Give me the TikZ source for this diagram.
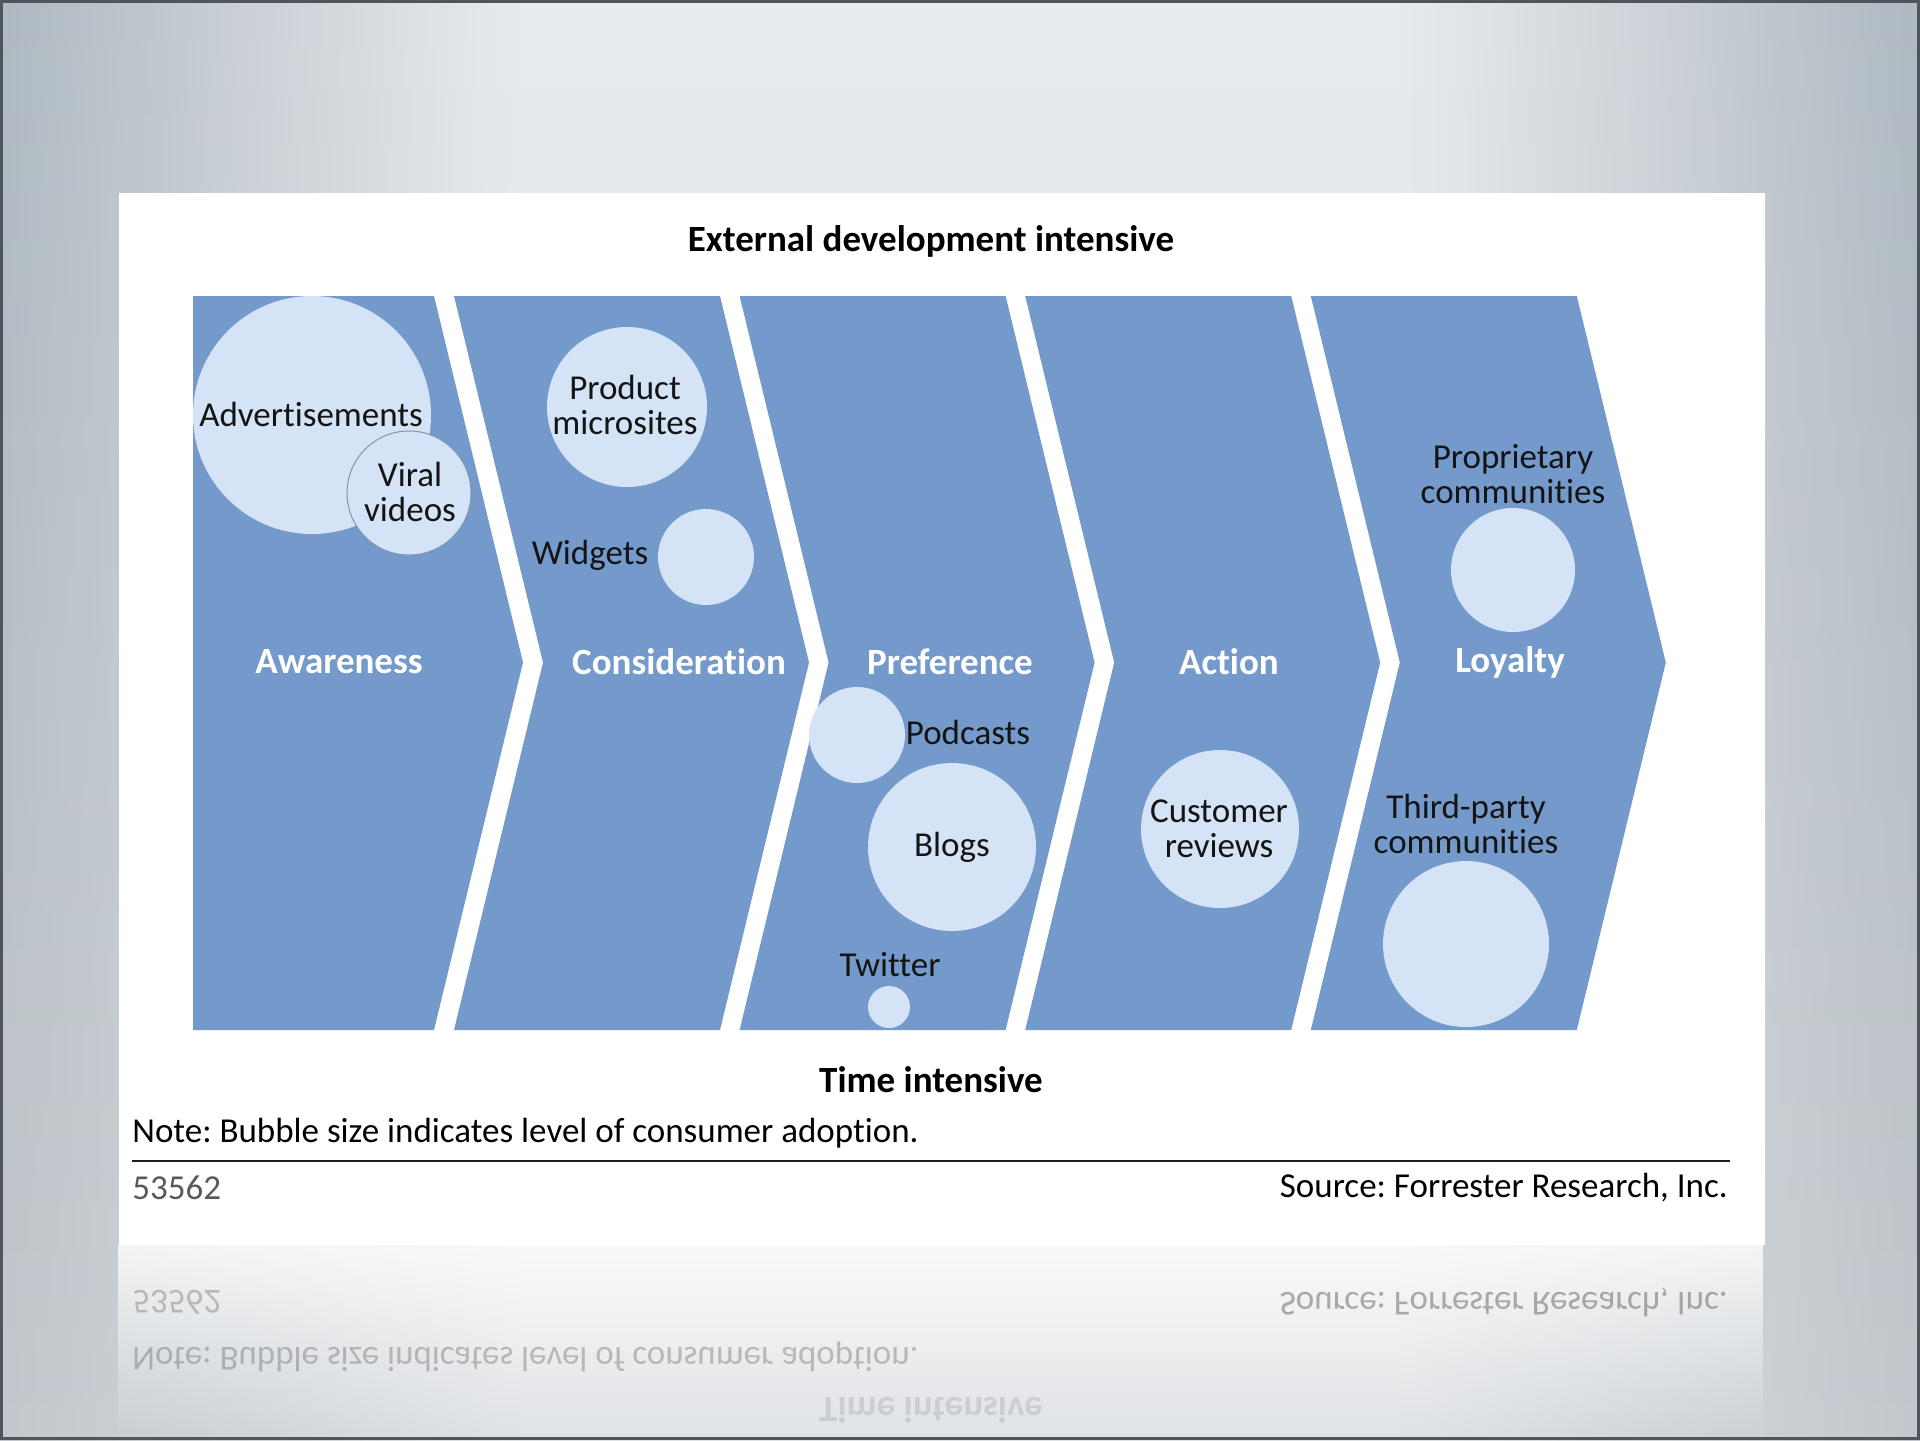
\documentclass[tikz,border=0pt]{standalone}
\usepackage{fontspec}
\setmainfont{Carlito}[Ligatures=NoCommon]
\usepackage{xcolor}
\usepackage{tikz}
\usetikzlibrary{fadings}
\frenchspacing

\definecolor{chevblue}{HTML}{7499CB}
\definecolor{bubblue}{HTML}{D4E3F5}
\definecolor{rimblue}{HTML}{8196B2}
\definecolor{bgtop}{HTML}{E8EBEE}
\definecolor{bgmid}{HTML}{C9D0D5}
\definecolor{bgbot}{HTML}{E0E3E6}
\definecolor{sidetop}{HTML}{AFB9C1}
\definecolor{sidemid}{HTML}{8E99A3}
\definecolor{sidebot}{HTML}{C2C8CD}
\definecolor{framegray}{HTML}{4E555B}

\tikzfading[name=fadeleft, left color=transparent!0, right color=transparent!100]
\tikzfading[name=faderight, left color=transparent!100, right color=transparent!0]
\tikzfading[name=fadedown, top color=transparent!20, bottom color=transparent!100]

\begin{document}
\begin{tikzpicture}[
    x=0.5pt, y=-0.5pt,
    chevron/.style={fill=chevblue},
    bubble/.style={circle, fill=bubblue, inner sep=0pt},
    bublabel/.style={font=\fontsize{17.5}{17.5}\selectfont, text=black!92, align=center, inner sep=0pt},
    stage/.style={font=\fontsize{18.5}{18.5}\selectfont\bfseries, text=white, inner sep=0pt},
    heading/.style={font=\fontsize{18.5}{18.5}\selectfont\bfseries, text=black, inner sep=0pt},
    foot/.style={font=\fontsize{17.5}{17.5}\selectfont, text=black, inner sep=0pt}
]

\useasboundingbox (0,0) rectangle (1920,1440);

% Background
\shade[top color=bgtop, middle color=bgmid, bottom color=bgbot] (0,0) rectangle (1920,1440);
\shade[top color=sidetop, middle color=sidemid, bottom color=sidebot, path fading=fadeleft] (0,0) rectangle (520,1440);
\shade[top color=sidetop, middle color=sidemid, bottom color=sidebot, path fading=faderight] (1400,0) rectangle (1920,1440);
\draw[framegray, line width=1.5pt] (1.5,1.5) rectangle (1918.5,1438.5);

% Panel and its reflection
\fill[white] (119,193) rectangle (1765,1245);
\fill[white, path fading=fadedown] (119,1245) rectangle (1765,1440);

% Chevrons
\fill[chevron] (193,296) -- (434,296) -- (523,662.5) -- (434,1030) -- (193,1030) -- cycle;
\foreach \i in {0,...,3} {
  \pgfmathsetmacro\lx{454+285.6*\i}
  \fill[chevron] (\lx,296) -- ++(266,0) -- ++(89,366.5) -- ++(-89,367.5) -- ++(-266,0) -- ++(89,-367.5) -- cycle;
}

% Bubbles
\node[bubble, minimum size=119pt] (adbub) at (312,415) {};
\node[bubble, minimum size=62pt, draw=rimblue, line width=0.5pt] (viralbub) at (409,493) {};
\node[bubble, minimum size=80pt] (sitebub) at (627,407) {};
\node[bubble, minimum size=48pt] (widgbub) at (706,557) {};
\node[bubble, minimum size=48pt] (podbub) at (857,735) {};
\node[bubble, minimum size=84pt] (blogbub) at (952,847) {};
\node[bubble, minimum size=21pt] (twitbub) at (889,1007) {};
\node[bubble, minimum size=79pt] (revbub) at (1220,829) {};
\node[bubble, minimum size=62pt] (propbub) at (1513,570) {};
\node[bubble, minimum size=83pt] (thirdbub) at (1466,944) {};

% Bubble labels
\node[bublabel] (adtext) at (311,414) {Advertisements};
\node[bublabel] (viraltext) at (410,492) {Viral\\videos};
\node[bublabel] (sitetext) at (625,405) {Product\\microsites};
\node[bublabel] (widgtext) at (590,555) {Widgets};
\node[bublabel] (podtext) at (968,732) {Podcasts};
\node[bublabel] (blogtext) at (952,847) {Blogs};
\node[bublabel] (twittext) at (890,965) {Twitter};
\node[bublabel] (revtext) at (1219,829) {Customer\\reviews};
\node[bublabel] (proptext) at (1513,474) {Proprietary\\communities};
\node[bublabel] (thirdtext) at (1466,824) {Third-party\\communities};

% Stage names
\node[stage] (aware) at (339,662) {Awareness};
\node[stage] (consid) at (679,662) {Consideration};
\node[stage] (pref) at (950,662) {Preference};
\node[stage] (action) at (1229,662) {Action};
\node[stage] (loyal) at (1510,662) {Loyalty};

% Axis captions and footer
\node[heading] (top) at (931,241) {External development intensive};
\node[heading] (bottom) at (931,1080) {Time intensive};
\node[foot, anchor=west] (note) at (132,1133) {Note: Bubble size indicates level of consumer adoption.};
\coordinate (ruleL) at (132,1161);
\coordinate (ruleR) at (1730,1161);
\draw[black!85, line width=1.25pt] (ruleL) -- (ruleR);
\node[foot, anchor=west, text=black!65] (fig) at (132,1188) {53562};
\node[foot, anchor=east] (source) at (1728,1188) {Source: Forrester Research, Inc.};

% Reflection
\begin{scope}[shift={(0,2490)}, yscale=-1, transform shape]
  \node[foot, anchor=west, text=black!65, text opacity=.35] (figR) at (132,1188) {53562};
  \node[foot, anchor=east, text opacity=.3] (sourceR) at (1728,1188) {Source: Forrester Research, Inc.};
  \draw[black, opacity=.2, line width=1.25pt] (ruleL) -- (ruleR);
  \node[foot, anchor=west, text opacity=.22] (noteR) at (132,1133) {Note: Bubble size indicates level of consumer adoption.};
  \node[heading, text opacity=.1] (bottomR) at (931,1080) {Time intensive};
\end{scope}

\end{tikzpicture}
\end{document}
